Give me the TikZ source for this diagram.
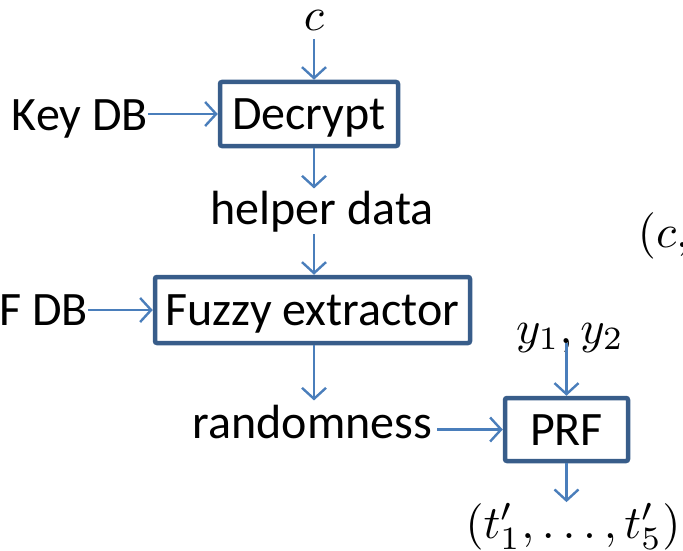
\documentclass[tikz,border=0pt]{standalone}
\usepackage{fontspec}
\setmainfont{Carlito}
\usetikzlibrary{arrows.meta}
\definecolor{boxblue}{HTML}{385D8A}
\definecolor{arrowblue}{HTML}{4A7EBB}
\begin{document}
\begin{tikzpicture}[x=1pt,y=-1pt,
  box/.style={draw=boxblue, line width=4.5pt, rounded corners=2pt, fill=white,
    inner sep=0pt, outer sep=2.25pt, text height=31pt, text depth=0pt,
    font=\fontsize{48}{57}\selectfont},
  lbl/.style={inner sep=0pt, font=\fontsize{48}{57}\selectfont},
  mth/.style={inner sep=0pt, font=\normalsize, scale=4.65, transform shape},
  flow/.style={draw=arrowblue, line width=2.4pt,
    -{Straight Barb[length=11pt,width=24pt]}}]
\path[use as bounding box] (0,0) rectangle (683,551);

% decryption stage
\node[mth, anchor=base] (c) at (314,31) {$c$};
\node[box, minimum width=178pt, minimum height=64pt] (dec) at (309,114) {Decrypt};
\node[lbl, anchor=base east] (key) at (148,130) {Key DB};
\node[lbl, anchor=base] (help) at (322,224) {helper data};

% extraction stage
\node[box, minimum width=315pt, minimum height=66pt] (fz) at (312.5,310) {Fuzzy extractor};
\node[lbl, anchor=base east] (fdb) at (88,325) {F DB};
\node[lbl, anchor=base] (rnd) at (312.5,438) {randomness};

% PRF stage
\node[box, minimum width=123pt, minimum height=63pt] (prf) at (566.5,429.5) {PRF};
\node[mth, anchor=base] (y) at (570,343) {$y_1,y_2$};
\node[mth, anchor=base] (t) at (573,538) {$(t'_1,\ldots,t'_5)$};
\node[mth, anchor=base west] (cc) at (637,247) {$(c,$};

% connectors
\draw[flow, shorten <=7pt] (c.south) -- (c.south |- dec.north);
\draw[flow] (key.east |- dec.west) -- (dec.west);
\draw[flow, shorten >=2pt] (c.south |- dec.south) -- (c.south |- help.north);
\draw[flow, shorten <=2pt] (c.south |- help.south) -- (c.south |- fz.north);
\draw[flow] (fdb.east |- fz.west) -- (fz.west);
\draw[flow, shorten >=4pt] (c.south |- fz.south) -- (c.south |- rnd.north);
\draw[flow, shorten <=5pt] (rnd.east |- prf.west) -- (prf.west);
\draw[flow] (prf.north |- y.base) -- (prf.north);
\draw[flow] (prf.south) -- (prf.south |- t.north);
\end{tikzpicture}
\end{document}
